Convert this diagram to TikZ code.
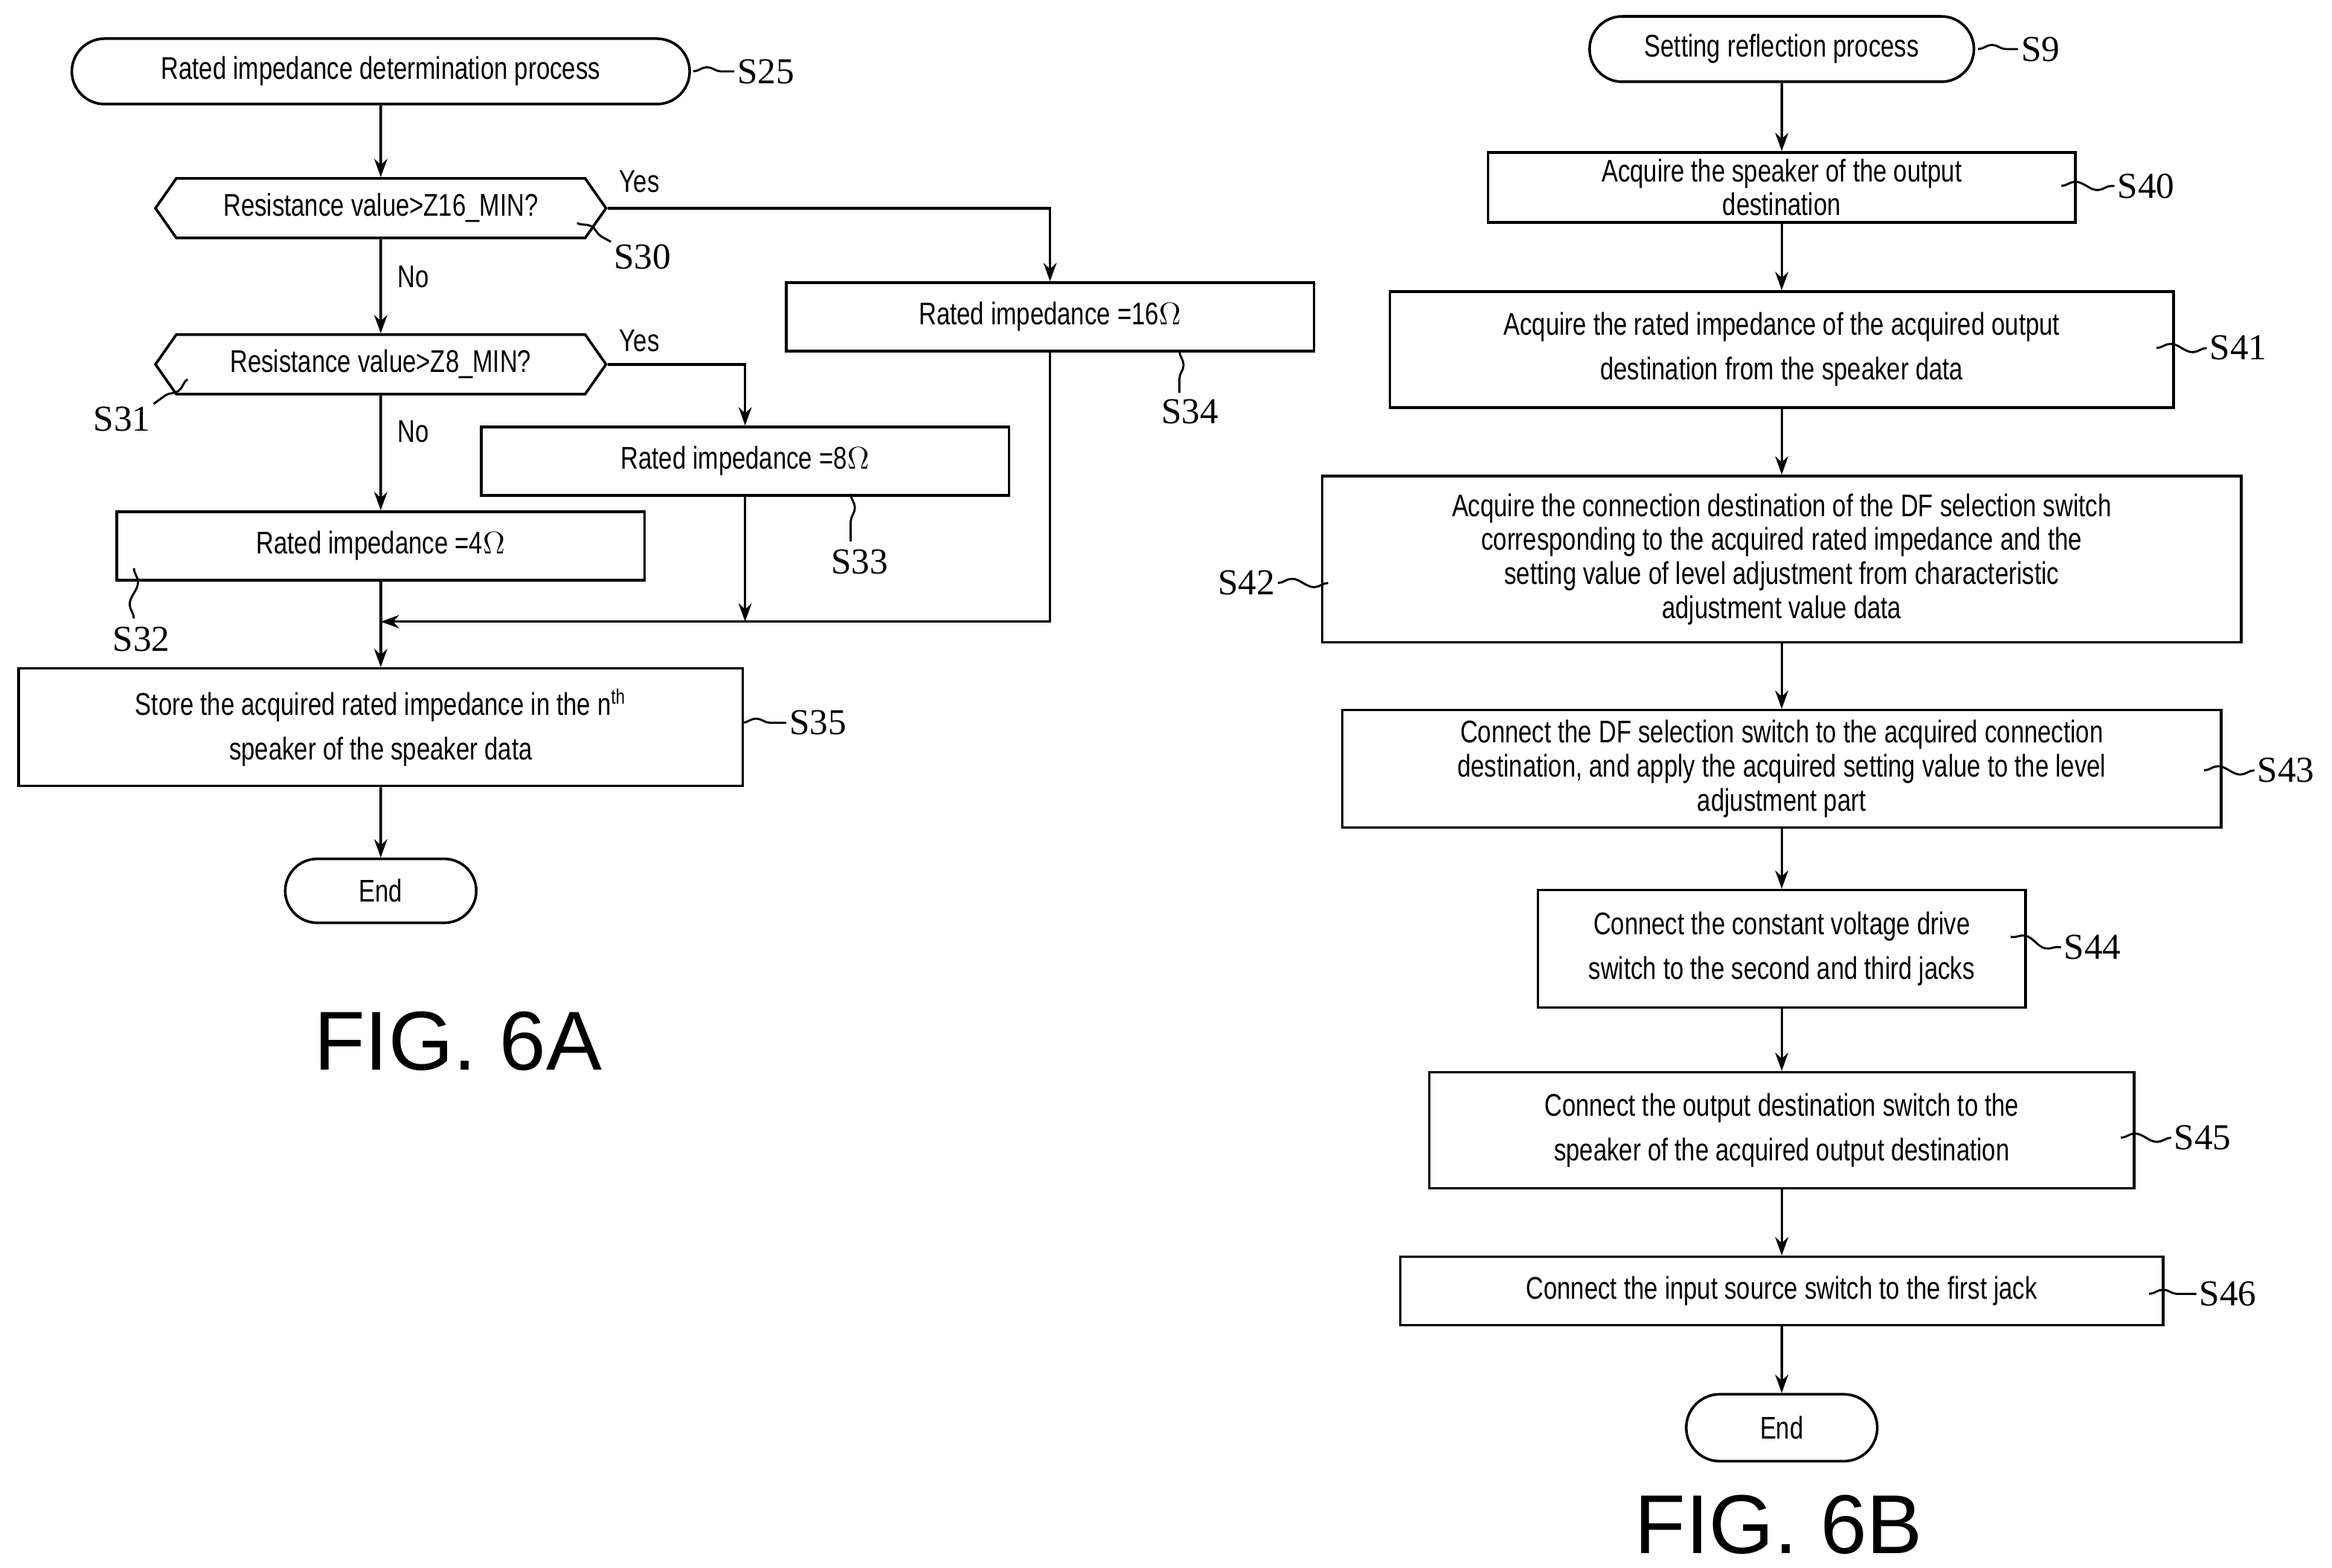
\documentclass[tikz,border=0pt]{standalone}
\usepackage{fontspec}
\setmainfont{Liberation Sans}[FakeStretch=0.78]
\newfontfamily\stepfont{Liberation Serif}
\newfontfamily\figfont{Liberation Sans}
\usetikzlibrary{shapes.misc,shapes.symbols,decorations.pathmorphing,arrows.meta}

\tikzset{
  box/.style={draw, line width=1pt, align=center, inner sep=1pt, font=\fontsize{12}{13}\selectfont},
  term/.style={box, rounded rectangle, minimum width=2.64cm, minimum height=0.86cm},
  test/.style={box, signal, signal to=west and east, signal pointer angle=110, minimum width=6.06cm, minimum height=0.8cm},
  flow/.style={line width=1pt, -{Stealth[length=7pt,width=5pt]}},
  tilde/.style={line width=0.8pt, decorate, decoration={snake, amplitude=1.6pt, segment length=0.6cm}},
  stepno/.style={font=\stepfont\fontsize{14}{14}\selectfont, inner sep=1pt},
  fig/.style={font=\figfont\fontsize{32}{32}\selectfont}
}

\begin{document}
\begin{tikzpicture}[x=0.02cm, y=-0.02cm]
\useasboundingbox (0,0) rectangle (1568,1054);

% FIG. 6A
\node [term, minimum width=8.38cm, minimum height=0.88cm] (t25) at (256,48) {Rated impedance determination process};
\node [test] (d30) at (256,140) {Resistance value>Z16\_MIN?};
\node [test] (d31) at (256,245) {Resistance value>Z8\_MIN?};
\node [box, minimum width=7.1cm, minimum height=0.92cm] (b34) at (706,213) {Rated impedance =16$\Omega$};
\node [box, minimum width=7.1cm, minimum height=0.92cm] (b33) at (501,310) {Rated impedance =8$\Omega$};
\node [box, minimum width=7.1cm, minimum height=0.92cm] (b32) at (256,367) {Rated impedance =4$\Omega$};
\node [box, minimum width=9.74cm, minimum height=1.58cm] (b35) at (256,489) {Store the acquired rated impedance in the n\textsuperscript{th}\\[4pt] speaker of the speaker data};
\node [term] (endA) at (256,599) {End};
\coordinate (m) at (256,418);

\draw [flow] (t25) -- (d30);
\draw [flow] (d30.east) -| (b34.north);
\draw [flow] (d30) -- (d31);
\draw [flow] (d31.east) -| (b33.north);
\draw [flow] (d31) -- (b32);
\draw [flow] (b32) -- (b35);
\draw [flow] (b34.south) |- (m);
\draw [flow] (b33.south) -- (b33.south |- m);
\draw [flow] (b35) -- (endA);

\node [font=\fontsize{12}{12}\selectfont] (y30) at (430,122) {Yes};
\node [font=\fontsize{12}{12}\selectfont] (n30) at (278,186) {No};
\node [font=\fontsize{12}{12}\selectfont] (y31) at (430,229) {Yes};
\node [font=\fontsize{12}{12}\selectfont] (n31) at (278,290) {No};

\node [stepno] (s25) at (515,48) {S25};
\node [stepno] (s30) at (432,173) {S30};
\node [stepno] (s31) at (82,282) {S31};
\node [stepno] (s34) at (800,277) {S34};
\node [stepno] (s33) at (578,378) {S33};
\node [stepno] (s32) at (95,430) {S32};
\node [stepno] (s35) at (550,486) {S35};
\draw [tilde] (466,48) -- (s25.west);
\draw [tilde] (388,150) -- (s30.north west);
\draw [tilde] (126,255) -- (s31.north east);
\draw [tilde] (793,236) -- (793,264);
\draw [tilde] (572,332) -- (572,364);
\draw [tilde] (90,382) -- (90,416);
\draw [tilde] (499,486) -- (s35.west);

\node [fig] (figA) at (308,700) {FIG. 6A};

% FIG. 6B
\node [term, minimum width=5.24cm, minimum height=0.88cm] (t9) at (1198,33) {Setting reflection process};
\node [box, minimum width=7.9cm, minimum height=0.94cm] (b40) at (1198,126) {Acquire the speaker of the output\\destination};
\node [box, minimum width=10.54cm, minimum height=1.56cm] (b41) at (1198,235) {Acquire the rated impedance of the acquired output\\[4pt] destination from the speaker data};
\node [box, minimum width=12.36cm, minimum height=2.24cm] (b42) at (1198,376) {Acquire the connection destination of the DF selection switch\\corresponding to the acquired rated impedance and the\\setting value of level adjustment from characteristic\\adjustment value data};
\node [box, minimum width=11.82cm, minimum height=1.58cm] (b43) at (1198,517) {Connect the DF selection switch to the acquired connection\\destination, and apply the acquired setting value to the level\\adjustment part};
\node [box, minimum width=6.56cm, minimum height=1.58cm] (b44) at (1198,638) {Connect the constant voltage drive\\[4pt]switch to the second and third jacks};
\node [box, minimum width=9.48cm, minimum height=1.56cm] (b45) at (1198,760) {Connect the output destination switch to the\\[4pt] speaker of the acquired output destination};
\node [box, minimum width=10.26cm, minimum height=0.92cm] (b46) at (1198,868) {Connect the input source switch to the first jack};
\node [term, minimum height=0.9cm] (endB) at (1198,960) {End};

\foreach \a/\b in {t9/b40, b40/b41, b41/b42, b42/b43, b43/b44, b44/b45, b45/b46, b46/endB}
  \draw [flow] (\a) -- (\b);

\node [stepno] (s9) at (1372,33) {S9};
\node [stepno] (s40) at (1443,125) {S40};
\node [stepno] (s41) at (1505,234) {S41};
\node [stepno] (s42) at (838,392) {S42};
\node [stepno] (s43) at (1537,518) {S43};
\node [stepno] (s44) at (1407,637) {S44};
\node [stepno] (s45) at (1481,765) {S45};
\node [stepno] (s46) at (1498,870) {S46};
\draw [tilde] (1330,33) -- (s9.west);
\draw [tilde] (1386,125) -- (s40.west);
\draw [tilde] (1450,234) -- (s41.west);
\draw [tilde] (s42.east) -- (893,392);
\draw [tilde] (1482,518) -- (s43.west);
\draw [tilde] (1352,630) -- (s44.west);
\draw [tilde] (1426,765) -- (s45.west);
\draw [tilde] (1445,870) -- (s46.west);

\node [fig] (figB) at (1196,1025) {FIG. 6B};
\end{tikzpicture}
\end{document}
